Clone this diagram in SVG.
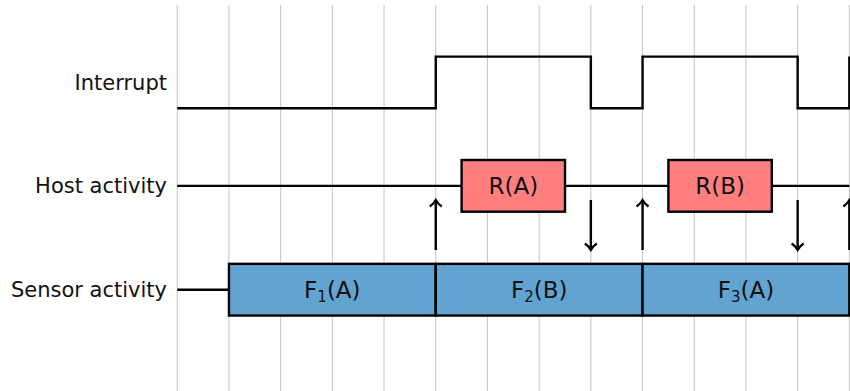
<svg xmlns="http://www.w3.org/2000/svg" width="850" height="391" viewBox="0 0 850 391">
<style>
.grid{stroke:#c4c4c4;stroke-width:1}
.ln{stroke:#000;stroke-width:2.4;fill:none}
.lbl{font-family:"DejaVu Sans","Liberation Sans",sans-serif;font-size:21px;fill:#111}
.bl{font-size:23px}
.red{fill:#ff7f7f;stroke:#000;stroke-width:2.4}
.blue{fill:#63a3d0;stroke:#000;stroke-width:2.4}
.sub{font-size:15px}
</style>
<defs>
<marker id="arr" markerUnits="userSpaceOnUse" markerWidth="16" markerHeight="16" viewBox="-8 -8 16 16" refX="0" refY="0" orient="auto">
<path d="M-6.5,-6 C-4.5,-3 -1.3,-0.7 0,0 C-1.3,0.7 -4.5,3 -6.5,6" fill="none" stroke="#000" stroke-width="2.2"/>
</marker>
</defs>
<rect width="850" height="391" fill="#fff"/>
<g id="grid">
<line class="grid" x1="177.25" y1="5" x2="177.25" y2="391"/>
<line class="grid" x1="228.95" y1="5" x2="228.95" y2="391"/>
<line class="grid" x1="280.65" y1="5" x2="280.65" y2="391"/>
<line class="grid" x1="332.35" y1="5" x2="332.35" y2="391"/>
<line class="grid" x1="384.05" y1="5" x2="384.05" y2="391"/>
<line class="grid" x1="435.75" y1="5" x2="435.75" y2="391"/>
<line class="grid" x1="487.45" y1="5" x2="487.45" y2="391"/>
<line class="grid" x1="539.15" y1="5" x2="539.15" y2="391"/>
<line class="grid" x1="590.85" y1="5" x2="590.85" y2="391"/>
<line class="grid" x1="642.55" y1="5" x2="642.55" y2="391"/>
<line class="grid" x1="694.25" y1="5" x2="694.25" y2="391"/>
<line class="grid" x1="745.95" y1="5" x2="745.95" y2="391"/>
<line class="grid" x1="797.65" y1="5" x2="797.65" y2="391"/>
<line class="grid" x1="849.35" y1="5" x2="849.35" y2="391"/>
</g>
<g id="labels">
<text class="lbl" x="167" y="89.5" text-anchor="end">Interrupt</text>
<text class="lbl" x="167" y="193" text-anchor="end">Host activity</text>
<text class="lbl" x="167" y="297" text-anchor="end">Sensor activity</text>
</g>
<g id="connectors">
<path class="ln" d="M177.25,108.3 H435.75 V56.6 H590.85 V108.3 H642.55 V56.6 H797.65 V108.3 H849.35 V56.6"/>
<line class="ln" x1="177.25" y1="185.85" x2="849.35" y2="185.85"/>
<line class="ln" x1="177.25" y1="289.7" x2="228.95" y2="289.7"/>
<line class="ln" x1="435.75" y1="250" x2="435.75" y2="200" marker-end="url(#arr)"/>
<line class="ln" x1="590.85" y1="200" x2="590.85" y2="250" marker-end="url(#arr)"/>
<line class="ln" x1="642.55" y1="250" x2="642.55" y2="200" marker-end="url(#arr)"/>
<line class="ln" x1="797.65" y1="200" x2="797.65" y2="250" marker-end="url(#arr)"/>
<line class="ln" x1="849.35" y1="250" x2="849.35" y2="200" marker-end="url(#arr)"/>
</g>
<g id="RA">
<rect class="red" x="461.6" y="160" width="103.4" height="51.7"/>
<text class="lbl bl" x="513.3" y="194" text-anchor="middle">R(A)</text>
</g>
<g id="RB">
<rect class="red" x="668.4" y="160" width="103.4" height="51.7"/>
<text class="lbl bl" x="720.1" y="194" text-anchor="middle">R(B)</text>
</g>
<g id="F1">
<rect class="blue" x="228.95" y="263.85" width="206.8" height="51.7"/>
<text class="lbl bl" x="332.35" y="298" text-anchor="middle">F<tspan class="sub" dy="4">1</tspan><tspan dy="-4">(A)</tspan></text>
</g>
<g id="F2">
<rect class="blue" x="435.75" y="263.85" width="206.8" height="51.7"/>
<text class="lbl bl" x="539.15" y="298" text-anchor="middle">F<tspan class="sub" dy="4">2</tspan><tspan dy="-4">(B)</tspan></text>
</g>
<g id="F3">
<rect class="blue" x="642.55" y="263.85" width="206.8" height="51.7"/>
<text class="lbl bl" x="745.95" y="298" text-anchor="middle">F<tspan class="sub" dy="4">3</tspan><tspan dy="-4">(A)</tspan></text>
</g>
</svg>
